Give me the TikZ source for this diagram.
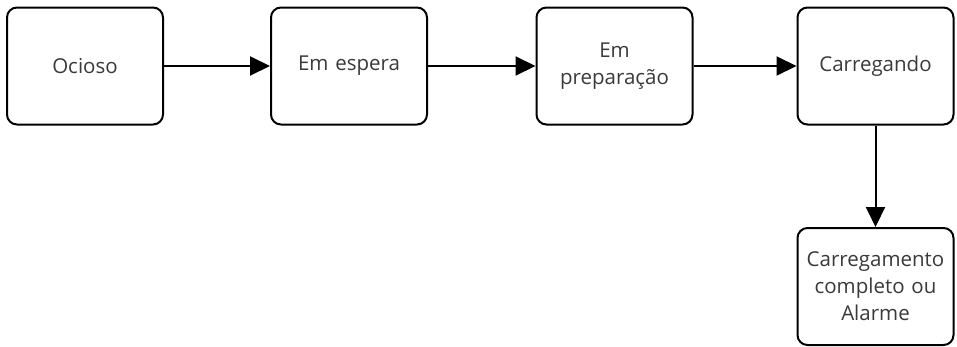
\documentclass[tikz,border=0pt]{standalone}
\usepackage{fontspec}
\setmainfont{Open Sans}
\usetikzlibrary{arrows.meta}
\definecolor{txt}{HTML}{3A3A3A}
\begin{document}
\begin{tikzpicture}[x=1pt,y=-1pt,
  state/.style={draw=black, line width=2pt, rounded corners=10pt, minimum width=155pt, minimum height=117pt, align=center, text=txt, font=\fontsize{20.5}{27}\selectfont, inner sep=2pt, text width=152pt},
  flow/.style={line width=2pt, -{Triangle[length=20pt,width=19pt]}}]
\useasboundingbox (0,0) rectangle (957,346);
\node[state] (a) at (85,66) {Ocioso};
\node[state] (b) at (349,66) {Em espera};
\node[state] (c) at (614.5,66) {Em\\preparação};
\node[state] (d) at (875.5,66) {Carregando};
\node[state] (e) at (875.5,286.5) {Carregamento\\completo ou\\Alarme};
\draw[flow] (a) -- (b);
\draw[flow] (b) -- (c);
\draw[flow] (c) -- (d);
\draw[flow] (d) -- (e);
\end{tikzpicture}
\end{document}
